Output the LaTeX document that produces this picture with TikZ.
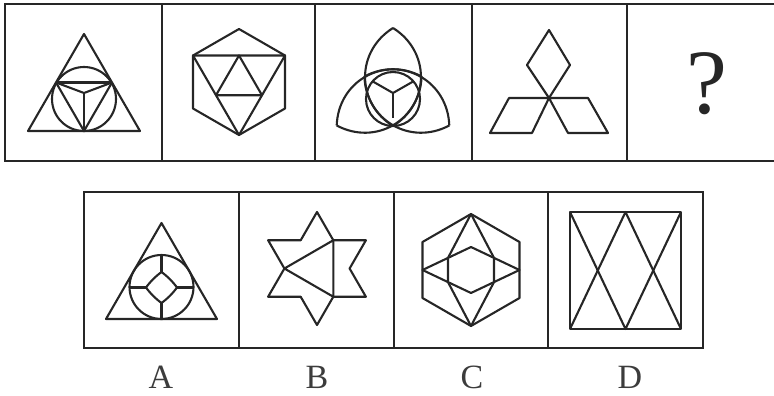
\documentclass[tikz,border=0pt]{standalone}
\usepackage{fontspec}
\setmainfont{Liberation Serif}
\usetikzlibrary{calc}
\definecolor{inkgray}{RGB}{38,38,38}
\tikzset{
  frame/.style={draw=inkgray, line width=2.3pt},
  fig/.style={draw=inkgray, line width=2.1pt, line join=round},
  optlabel/.style={font=\fontsize{34}{40}\selectfont, text=inkgray!90, inner sep=0pt},
  qmark/.style={font=\fontsize{92}{100}\selectfont, text=inkgray, inner sep=0pt}
}

\begin{document}
\begin{tikzpicture}[x=1pt, y=-1pt]
  \useasboundingbox (0,0) rectangle (774,396);
  % question row
  \draw[frame] (774,4) -- (5,4) -- (5,161) -- (774,161);
  \foreach \xd in {162,315,472,627} \draw[frame] (\xd,4) -- (\xd,161);
  % answer row
  \draw[frame] (84,192) rectangle (703,348);
  \foreach \xd in {239,394,548} \draw[frame] (\xd,192) -- (\xd,348);

  % triangle with incircle
  \draw[fig] (84,34) -- (28,131) -- (140,131) -- cycle;
  \draw[fig] (84,99) circle[radius=32pt];
  \coordinate (tl) at (56,82.5);
  \coordinate (tr) at (112,82.5);
  \coordinate (tc) at (84,93);
  \coordinate (tb) at (84,131);
  \draw[fig] (tl) -- (tr);
  \draw[fig] (tl) -- (tc) -- (tr);
  \draw[fig] (tl) -- (tb) -- (tr);
  \draw[fig] (tc) -- (tb);

  % hexagon with triangles
  \draw[fig] (239,29) -- (285,55.5) -- (285,108.5) -- (239,135) -- (193,108.5) -- (193,55.5) -- cycle;
  \draw[fig] (193,55.5) -- (285,55.5) -- (239,135) -- cycle;
  \draw[fig] (239,55.5) -- (262,95.25) -- (216,95.25) -- cycle;

  % three leaves with circle
  \draw[fig] (393,99) circle[radius=27pt];
  \foreach \ang in {0,120,240}
    \draw[fig, shift={(393,93)}, rotate=\ang] (0,-65) to[bend left=58, looseness=1.15] (0,33)
      to[bend left=58, looseness=1.15] (0,-65);
  \coordinate (lc) at (393,93);
  \draw[fig] (372,81) -- (lc) -- (414,81);
  \draw[fig] (lc) -- (393,118);

  % three rhombi
  \draw[fig] (549,30) -- (570,65) -- (549,98) -- (527,65) -- cycle;
  \draw[fig] (549,98) -- (509,98) -- (490,133) -- (532,133) -- cycle;
  \draw[fig] (549,98) -- (588,98) -- (608,133) -- (568,133) -- cycle;

  \node[qmark] (ask) at (707,84) {?};

  % option A
  \draw[fig] (161.5,223) -- (106,319) -- (217,319) -- cycle;
  \draw[fig] (161.5,287) circle[radius=32pt];
  \draw[fig] (161.5,272) to[bend left=8] (177,287.5) to[bend left=8] (161.5,303)
    to[bend left=8] (146,287.5) to[bend left=8] (161.5,272);
  \draw[fig] (161.5,255) -- (161.5,272);
  \draw[fig] (161.5,303) -- (161.5,319);
  \draw[fig] (129.5,287.5) -- (146,287.5);
  \draw[fig] (177,287.5) -- (193.5,287.5);

  % option B
  \draw[fig] (317,212) -- (333.3,240.25) -- (365.9,240.25) -- (349.6,268.5) -- (365.9,296.75)
    -- (333.3,296.75) -- (317,325) -- (300.7,296.75) -- (268.1,296.75) -- (284.4,268.5)
    -- (268.1,240.25) -- (300.7,240.25) -- cycle;
  \draw[fig] (284.4,268.5) -- (333.3,240.25) -- (333.3,296.75) -- cycle;

  % option C
  \draw[fig] (471,214) -- (519.5,242) -- (519.5,298) -- (471,326) -- (422.5,298) -- (422.5,242) -- cycle;
  \draw[fig] (422.5,270) -- (471,247) -- (519.5,270) -- (471,293) -- cycle;
  \draw[fig] (471,214) -- (494,257.9) -- (494,282.1) -- (471,326) -- (448,282.1) -- (448,257.9) -- cycle;

  % option D
  \draw[fig] (570,212) rectangle (681,329);
  \draw[fig] (570,212) -- (625.5,329) -- (681,212);
  \draw[fig] (570,329) -- (625.5,212) -- (681,329);

  \node[optlabel] (la) at (161,377) {A};
  \node[optlabel] (lb) at (317,377) {B};
  \node[optlabel] (lcc) at (472,377) {C};
  \node[optlabel] (ld) at (630,377) {D};
\end{tikzpicture}
\end{document}
